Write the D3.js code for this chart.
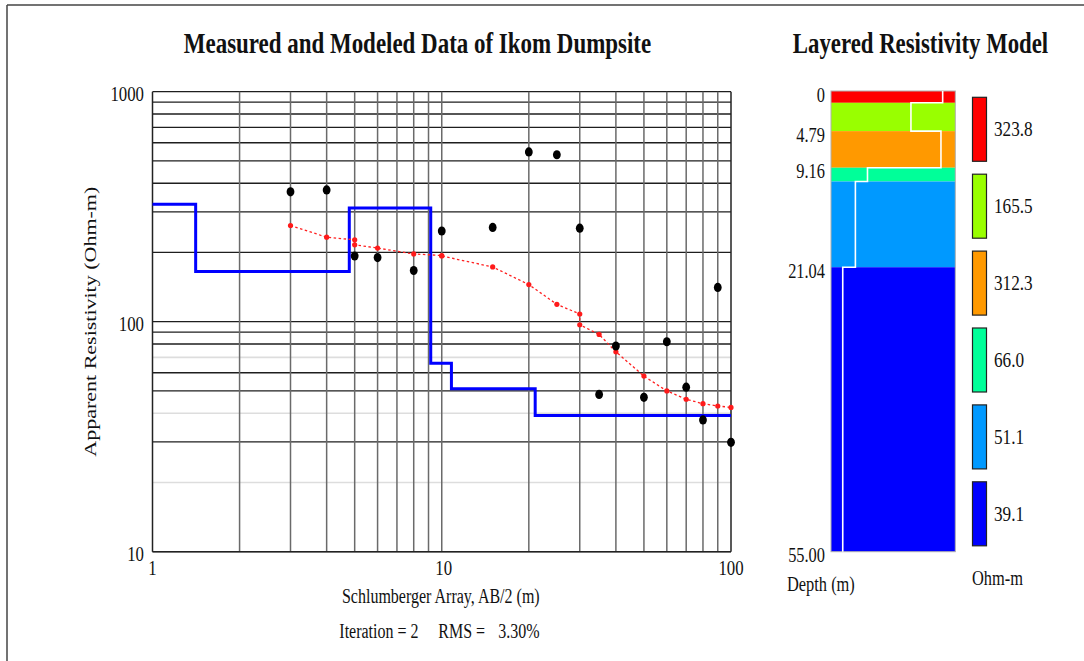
<!DOCTYPE html>
<html>
<head>
<meta charset="utf-8">
<script src="https://cdn.jsdelivr.net/npm/d3@7"></script>
<style>
  html, body { margin: 0; padding: 0; background: #fff; }
  svg { display: block; }
  text { font-family: "Liberation Serif", "Times New Roman", serif; fill: #111; }
</style>
</head>
<body>
<script>
// ---------------- data ----------------
const measuredAB = [3, 4, 5, 6, 8, 10, 15, 20, 25, 30, 35, 40, 50, 60, 70, 80, 90, 100];
const measuredRho = [367, 374, 193, 190, 167, 248, 257, 547, 532, 255, 48.3, 78.4, 46.9, 81.8, 51.9, 37.4, 141, 29.9];

const calcAB = [3, 4, 5, 5, 6, 8, 10, 10, 15, 20, 25, 30, 30, 35, 40, 50, 60, 70, 80, 90, 100];
const calcRho = [262, 233, 227, 216, 209, 197, 194, 193, 173, 145, 119, 108, 97, 88, 74, 58, 50, 46, 44, 43, 42.4];

const layerRho = [323.8, 165.5, 312.3, 66.0, 51.1, 39.1];
const layerTop = [0, 1.41, 4.79, 9.16, 10.8, 21.04];
const maxDepth = 55;
const layerColors = ["#ff0000", "#99ff00", "#ff9900", "#00ff99", "#0099ff", "#0000ff"];
const legendLabels = ["323.8", "165.5", "312.3", "66.0", "51.1", "39.1"];
const depthTickValues = [0, 4.79, 9.16, 21.04, 55];
const depthTickLabels = ["0", "4.79", "9.16", "21.04", "55.00"];

const xTickValues = [1, 10, 100];
const yTickValues = [10, 100, 1000];
const lightYGrid = [20, 40, 70];

const titleMain = "Measured and Modeled Data of Ikom Dumpsite";
const titleRight = "Layered Resistivity Model";
const xAxisTitle = "Schlumberger Array, AB/2 (m)";
const yAxisTitle = "Apparent Resistivity (Ohm-m)";
const iterText = "Iteration = 2";
const rmsText = "RMS =";
const rmsValue = "3.30%";

// ---------------- setup ----------------
const W = 1084, H = 661;
const SX = 0.8; // horizontal text condensation seen in the reference
const svg = d3.select("body").append("svg").attr("width", W).attr("height", H);

function addText(parent, x, y, str, o = {}) {
  const t = parent.append("text")
    .attr("transform", `translate(${x},${y}) scale(${o.sx ?? SX},1)`)
    .attr("font-size", o.size || 20)
    .attr("font-weight", o.weight || "normal")
    .attr("text-anchor", o.anchor || "start")
    .attr("dominant-baseline", o.baseline || "alphabetic")
    .text(str);
  return t;
}

// frame
svg.append("line").attr("x1", 7).attr("x2", 7).attr("y1", 5).attr("y2", H).attr("stroke", "#444").attr("stroke-width", 1.5);
svg.append("line").attr("x1", 7).attr("x2", W).attr("y1", 5).attr("y2", 5).attr("stroke", "#444").attr("stroke-width", 1.5);

// ---------------- left chart ----------------
const x = d3.scaleLog().domain([1, 100]).range([152.5, 731]);
const y = d3.scaleLog().domain([10, 1000]).range([551.7, 91.7]);

const gGrid = svg.append("g");
const xGridVals = d3.range(1, 11).map(d => d).concat(d3.range(2, 11).map(d => d * 10));
const yGridVals = d3.range(1, 11).map(d => d * 10).concat(d3.range(2, 11).map(d => d * 100));

// horizontal grid
gGrid.selectAll("line.h").data(yGridVals).join("line")
  .attr("x1", x(1)).attr("x2", x(100))
  .attr("y1", d => y(d)).attr("y2", d => y(d))
  .attr("stroke", d => lightYGrid.includes(d) ? "#dddddd" : "#1e1e1e")
  .attr("stroke-width", d => lightYGrid.includes(d) ? 1.6 : 1.3);
// vertical grid
gGrid.selectAll("line.v").data(xGridVals).join("line")
  .attr("x1", d => x(d)).attr("x2", d => x(d))
  .attr("y1", y(1000)).attr("y2", y(10))
  .attr("stroke", d => (d === 1 || d === 100) ? "#222" : "#6a6a6a")
  .attr("stroke-width", 1.5);
// bottom / top border
gGrid.append("line").attr("x1", x(1)).attr("x2", x(100)).attr("y1", y(10)).attr("y2", y(10)).attr("stroke", "#222").attr("stroke-width", 1.6);

// tick labels
yTickValues.forEach(v => addText(svg, 144, y(v) + 2, String(v), { size: 21, anchor: "end", baseline: "central" }));
xTickValues.forEach(v => addText(svg, x(v) + (v === 10 ? 2 : 0), 568, String(v), { size: 21, anchor: "middle", baseline: "central" }));

// model step line
const modelPts = layerTop.map((t, i) => ({ x: i === 0 ? 1 : t, r: layerRho[i] }));
modelPts.push({ x: 100, r: layerRho[layerRho.length - 1] });
svg.append("path")
  .attr("d", d3.line().x(d => x(d.x)).y(d => y(d.r)).curve(d3.curveStepAfter)(modelPts))
  .attr("fill", "none").attr("stroke", "#0000ff").attr("stroke-width", 3);

// calculated curve
const calcPts = calcAB.map((a, i) => ({ a, r: calcRho[i] }));
svg.append("path")
  .attr("d", d3.line().x(d => x(d.a)).y(d => y(d.r))(calcPts))
  .attr("fill", "none").attr("stroke", "#ff2020").attr("stroke-width", 1.3)
  .attr("stroke-dasharray", "2.5,2.5");
svg.selectAll("circle.calc").data(calcPts).join("circle")
  .attr("cx", d => x(d.a)).attr("cy", d => y(d.r)).attr("r", 2.6).attr("fill", "#ff1a1a");

// measured points
const measPts = measuredAB.map((a, i) => ({ a, r: measuredRho[i] }));
svg.selectAll("ellipse.meas").data(measPts).join("ellipse")
  .attr("cx", d => x(d.a)).attr("cy", d => y(d.r)).attr("rx", 3.9).attr("ry", 4.6).attr("fill", "#000");

// titles
addText(svg, 417.5, 53, titleMain, { size: 28.7, weight: "bold", anchor: "middle" });
addText(svg, 440.8, 603, xAxisTitle, { size: 20, anchor: "middle" });
addText(svg, 339.3, 638, iterText, { size: 20 });
addText(svg, 438.3, 638, rmsText, { size: 20 });
addText(svg, 498.3, 638, rmsValue, { size: 20 });

svg.append("text")
  .attr("transform", "translate(90,321.7) scale(0.8,1) rotate(-90)")
  .attr("font-size", 22).attr("text-anchor", "middle").attr("dominant-baseline", "central")
  .text(yAxisTitle);

// ---------------- right panel ----------------
const dScale = d3.scaleLinear().domain([0, maxDepth]).range([91, 551.7]);
const rScale = d3.scaleLog().domain([30.5, 423]).range([831, 955.3]);
const colX0 = rScale.range()[0], colX1 = rScale.range()[1];

const layers = layerTop.map((t, i) => ({
  top: t, bottom: i < layerTop.length - 1 ? layerTop[i + 1] : maxDepth, rho: layerRho[i], color: layerColors[i]
}));
svg.selectAll("rect.layer").data(layers).join("rect")
  .attr("x", colX0).attr("width", colX1 - colX0)
  .attr("y", d => dScale(d.top)).attr("height", d => dScale(d.bottom) - dScale(d.top))
  .attr("fill", d => d.color);
svg.append("rect").attr("x", colX0).attr("y", dScale(0)).attr("width", colX1 - colX0)
  .attr("height", dScale(maxDepth) - dScale(0)).attr("fill", "none").attr("stroke", "#b0b0b0").attr("stroke-width", 1);

// white resistivity profile
const profPts = [];
layers.forEach(l => { profPts.push([rScale(l.rho), dScale(l.top)]); profPts.push([rScale(l.rho), dScale(l.bottom)]); });
svg.append("path").attr("d", d3.line()(profPts))
  .attr("fill", "none").attr("stroke", "#fff").attr("stroke-width", 1.6);

// depth labels
depthTickValues.forEach((v, i) => addText(svg, 825, dScale(v) + 3.5, depthTickLabels[i], { size: 20.5, anchor: "end", baseline: "central" }));

// legend
const legY0 = 97.3, legPitch = 76.9, legH = 64;
legendLabels.forEach((lab, i) => {
  svg.append("rect").attr("x", 972.5).attr("y", legY0 + i * legPitch).attr("width", 14).attr("height", legH)
    .attr("fill", layerColors[i]).attr("stroke", "#222").attr("stroke-width", 1.2);
  addText(svg, 994, legY0 + i * legPitch + legH / 2, lab, { size: 21.5, baseline: "central" });
});

addText(svg, 920.5, 53, titleRight, { size: 28.5, weight: "bold", anchor: "middle" });
addText(svg, 787, 584, "Depth (m)", { size: 20.5, baseline: "central" });
addText(svg, 972, 578, "Ohm-m", { size: 20.5, baseline: "central" });
</script>
</body>
</html>
